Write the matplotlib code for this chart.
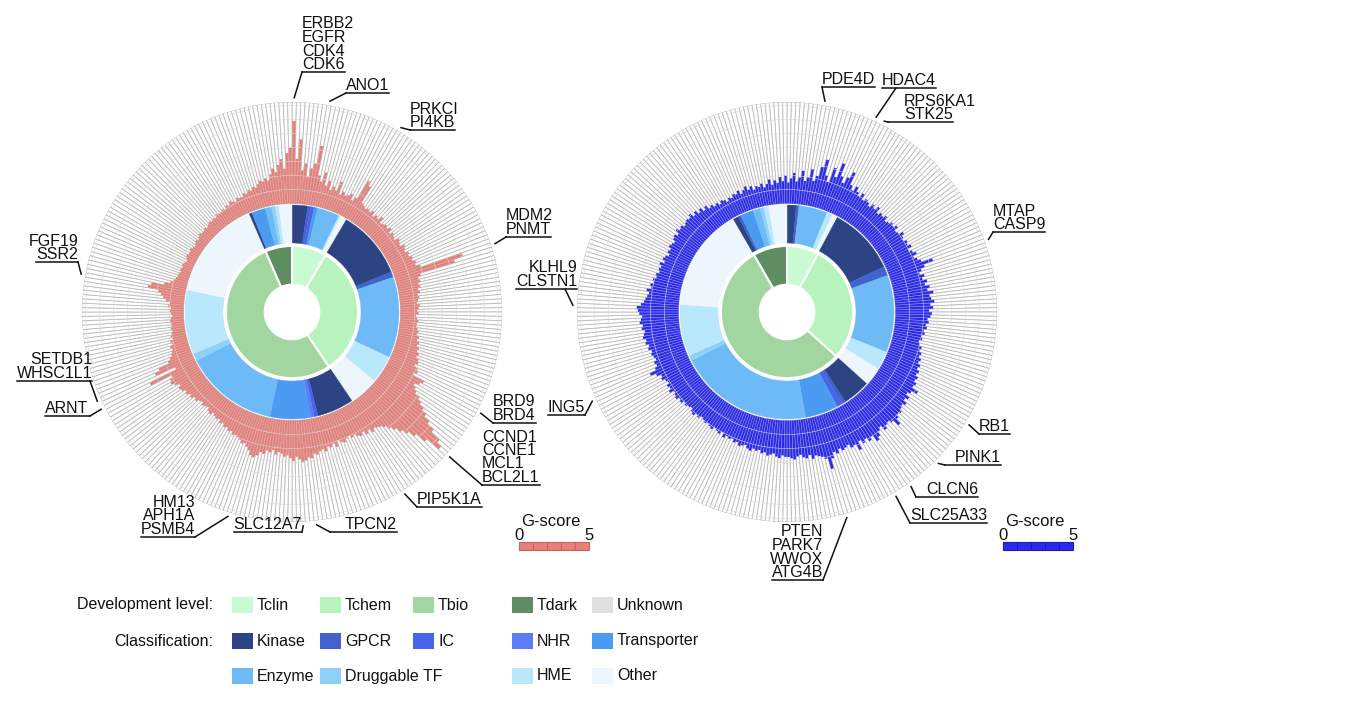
import matplotlib
matplotlib.use('Agg')
import matplotlib.pyplot as plt
import numpy as np
from matplotlib.patches import Rectangle

plt.rcParams['font.family'] = ['Liberation Sans', 'DejaVu Sans']

W, H = 1367, 702

# ---- data -------------------------------------------------------------
DEV_LEVELS = ['Tclin', 'Tchem', 'Tbio', 'Tdark', 'Unknown']
DEV_COLORS = ['#c9fbd3', '#b8f3be', '#a2d6a0', '#5f8d62', '#e0e0e0']

CLASSES = ['Kinase', 'GPCR', 'IC', 'NHR', 'Transporter',
           'Enzyme', 'Druggable TF', 'HME', 'Other']
CLASS_COLORS = ['#2c4484', '#4262cc', '#4a62ec', '#5b7df6', '#4b9bf2',
                '#6dbaf6', '#8fd0f7', '#b9e7fb', '#eef6fd']

# development level arcs, degrees (Tclin, Tchem, Tbio, Tdark)
dev_left = [30.5, 115.5, 190.5, 23.5]
dev_right = [28, 104, 198, 30]

# classification arcs, degrees, in drawing order
cls_left = [
    ('Kinase', 8.5), ('GPCR', 1.5), ('IC', 2), ('Transporter', 2), ('Enzyme', 12),
    ('HME', 1), ('Other', 3.5),
    ('Kinase', 37.5), ('GPCR', 3), ('Enzyme', 44), ('HME', 15), ('Other', 16),
    ('Kinase', 20), ('IC', 2), ('NHR', 2), ('Transporter', 22), ('Enzyme', 51),
    ('Druggable TF', 4), ('HME', 35), ('Other', 54.5),
    ('Kinase', 1.5), ('Transporter', 7.5), ('Enzyme', 3.5), ('Druggable TF', 2),
    ('HME', 2), ('Other', 7),
]
cls_right = [
    ('Kinase', 5), ('GPCR', 1.5), ('Enzyme', 15.5), ('HME', 3), ('Other', 3),
    ('Kinase', 37), ('GPCR', 5), ('Enzyme', 42), ('HME', 10), ('Other', 10),
    ('Kinase', 15), ('GPCR', 2), ('IC', 3), ('Transporter', 18), ('Enzyme', 73),
    ('Druggable TF', 3), ('HME', 28), ('Other', 56),
    ('Kinase', 3), ('GPCR', 1.5), ('Transporter', 7), ('Enzyme', 4),
    ('Druggable TF', 2), ('HME', 2.5), ('Other', 10),
]

# G-score per gene, clockwise from 12 o'clock
gscore_left = [
    5.9, 3.2, 4.6, 2.4, 2.9, 2.0, 2.6, 3.0, 4.3, 2.2,
    1.8, 2.5, 1.6, 2.0, 1.4, 1.7, 1.5, 2.2, 1.3, 1.6,
    1.4, 1.5, 1.7, 1.3, 1.6, 3.1, 2.8, 1.5, 1.4, 1.3,
    1.4, 1.3, 1.5, 1.2, 1.4, 1.3, 1.6, 1.2, 1.3, 1.4,
    1.3, 1.5, 1.2, 1.4, 1.3, 1.2, 1.5, 1.4, 1.3, 1.6,
    1.5, 1.4, 1.6, 1.5, 1.7, 1.6, 1.8, 1.7, 2.0, 5.1,
    4.4, 1.8, 1.6, 1.7, 1.5, 1.6, 1.4, 1.5, 1.3, 1.4,
    1.3, 1.2, 1.4, 1.3, 1.2, 1.3, 1.1, 1.2, 1.3, 1.2,
    1.2, 1.3, 1.4, 1.3, 1.5, 1.4, 1.6, 1.5, 1.7, 1.6,
    1.8, 1.7, 1.9, 2.0, 1.8, 2.1, 2.2, 2.0, 2.9, 2.7,
    2.4, 2.6, 2.8, 3.2, 3.5, 3.9, 4.3, 4.8, 5.4, 6.2,
    6.6, 5.5, 4.7, 4.2, 3.8, 3.4, 3.1, 2.8, 2.6, 2.5,
    2.4, 2.6, 2.3, 2.5, 2.2, 2.4, 2.3, 2.1, 2.2, 2.0,
    2.1, 2.3, 2.2, 2.0, 2.4, 2.1, 2.3, 2.2, 2.5, 2.3,
    2.4, 2.6, 2.5, 2.8, 2.7, 2.9, 3.0, 2.8, 2.6, 2.9,
    2.7, 2.5, 2.6, 2.4, 2.3, 2.5, 2.2, 2.4, 2.3, 2.6,
    2.5, 2.8, 3.0, 2.9, 2.6, 2.4, 2.2, 2.3, 2.1, 2.0,
    1.9, 2.0, 1.8, 1.9, 1.7, 1.8, 1.6, 1.7, 1.5, 1.6,
    1.5, 1.4, 1.6, 1.5, 1.3, 1.4, 1.5, 1.3, 1.4, 1.6,
    1.5, 1.7, 1.6, 1.8, 1.7, 1.9, 2.0, 1.8, 2.1, 2.3,
    2.2, 2.0, 3.6, 1.5, 3.0, 2.6, 1.8, 1.6, 1.4, 1.3,
    1.2, 1.3, 1.1, 1.2, 1.0, 1.1, 1.0, 0.9, 1.0, 0.9,
    0.9, 1.0, 0.9, 0.8, 0.9, 1.0, 0.9, 1.1, 1.0, 1.3,
    1.5, 1.7, 1.9, 2.7, 2.5, 1.6, 1.2, 1.0, 0.9, 0.8,
    0.8, 0.7, 0.8, 0.7, 0.8, 0.7, 0.6, 0.7, 0.8, 0.7,
    0.7, 0.8, 0.7, 0.6, 0.7, 0.8, 0.7, 0.8, 0.9, 0.8,
    0.8, 0.9, 0.8, 0.9, 1.0, 0.9, 1.0, 0.9, 1.1, 1.0,
    1.0, 1.1, 1.0, 1.2, 1.1, 1.3, 1.2, 1.1, 1.3, 1.2,
    1.2, 1.4, 1.3, 1.5, 1.4, 1.6, 1.5, 1.7, 1.9, 1.8,
    2.0, 1.8, 2.2, 2.6, 2.3, 2.8, 3.2, 2.5, 3.6, 4.0,
]
gscore_right = [
    1.5, 1.8, 2.2, 1.6, 1.9, 2.4, 1.7, 2.0, 2.6, 1.8,
    2.2, 2.9, 3.5, 2.4, 2.0, 3.1, 2.5, 3.6, 2.7, 2.3,
    2.8, 3.3, 2.4, 2.1, 2.5, 2.2, 2.0, 2.3, 1.9, 2.1,
    2.0, 1.8, 2.1, 1.9, 2.2, 1.8, 2.0, 1.9, 2.1, 1.8,
    1.9, 2.1, 2.0, 2.2, 1.9, 2.0, 2.3, 2.1, 2.0, 2.2,
    2.1, 2.3, 2.0, 2.2, 2.4, 2.1, 2.3, 2.5, 3.3, 2.6,
    2.3, 2.1, 2.4, 2.2, 2.5, 2.3, 2.6, 2.4, 2.8, 2.5,
    2.6, 2.8, 2.5, 2.7, 2.4, 2.6, 2.5, 2.3, 2.4, 2.2,
    2.3, 2.1, 2.2, 2.0, 2.1, 1.9, 2.0, 2.2, 2.1, 2.3,
    2.2, 2.4, 2.3, 2.5, 2.4, 2.6, 2.5, 2.7, 2.6, 2.8,
    2.7, 3.2, 2.8, 2.6, 2.9, 2.7, 3.0, 2.8, 2.9, 3.1,
    3.0, 3.2, 3.6, 3.1, 2.9, 3.0, 3.2, 2.8, 3.0, 3.3,
    3.5, 3.0, 3.2, 2.9, 3.1, 2.8, 3.4, 2.9, 3.0, 2.7,
    2.8, 2.9, 2.7, 3.0, 2.8, 3.2, 3.9, 3.1, 2.9, 2.8,
    2.7, 2.9, 2.6, 2.8, 2.7, 2.5, 2.6, 2.8, 2.7, 2.6,
    2.6, 2.5, 2.7, 2.6, 2.4, 2.5, 2.6, 2.4, 2.5, 2.3,
    2.4, 2.3, 2.5, 2.4, 2.2, 2.3, 2.4, 2.2, 2.3, 2.1,
    2.2, 2.1, 2.3, 2.0, 2.2, 2.1, 2.0, 2.2, 2.1, 2.0,
    2.1, 2.0, 1.9, 2.1, 2.0, 2.2, 2.1, 1.9, 2.0, 2.1,
    2.0, 2.2, 2.1, 2.3, 2.2, 2.1, 2.4, 2.2, 2.3, 2.1,
    2.2, 2.4, 2.3, 2.6, 3.0, 2.5, 2.3, 2.4, 2.2, 2.3,
    2.4, 2.3, 2.5, 2.4, 2.6, 2.5, 2.7, 2.6, 2.5, 2.7,
    2.6, 2.8, 2.7, 2.6, 2.8, 2.9, 3.0, 2.7, 2.5, 2.4,
    2.3, 2.2, 2.4, 2.1, 2.2, 2.0, 2.1, 1.9, 2.0, 1.8,
    1.9, 1.8, 2.0, 1.7, 1.9, 1.8, 1.6, 1.8, 1.7, 1.9,
    1.8, 1.7, 1.9, 2.0, 1.8, 2.1, 1.9, 2.0, 1.8, 1.9,
    2.0, 1.9, 2.1, 1.8, 2.0, 1.7, 1.9, 1.6, 1.8, 1.5,
    1.6, 1.4, 1.5, 1.3, 1.5, 1.4, 1.2, 1.4, 1.3, 1.5,
    1.4, 1.6, 1.3, 1.5, 1.7, 1.4, 1.6, 1.3, 1.5, 1.4,
    1.6, 1.3, 1.5, 1.8, 1.4, 1.7, 1.5, 1.9, 1.6, 2.0,
]

# gene callouts: (gene index, text, text x, underline y, alignment, leader x)
labels_left = [
    (0, 'ERBB2\nEGFR\nCDK4\nCDK6', 302, 72, 'left', 302),
    (8, 'ANO1', 346, 93, 'left', 346),
    (25, 'PRKCI\nPI4KB', 410, 130, 'left', 410),
    (59, 'MDM2\nPNMT', 506, 237, 'left', 506),
    (98, 'BRD9\nBRD4', 493, 423, 'left', 493),
    (110, 'CCND1\nCCNE1\nMCL1\nBCL2L1', 482, 485, 'left', 482),
    (123, 'PIP5K1A', 417, 507, 'left', 417),
    (144, 'TPCN2', 345, 532, 'left', 330),
    (147, 'SLC12A7', 302, 532, 'right', 302),
    (164, 'HM13\nAPH1A\nPSMB4', 195, 537, 'right', 195),
    (202, 'ARNT', 88, 416, 'right', 90),
    (204, 'SETDB1\nWHSC1L1', 92, 381, 'right', 90),
    (233, 'FGF19\nSSR2', 78, 262, 'right', 78),
]
labels_right = [
    (8, 'PDE4D', 822, 87, 'left', 822),
    (20, 'HDAC4', 882, 88, 'left', 896),
    (22, 'RPS6KA1\nSTK25', 904, 122, 'left', 888),
    (58, 'MTAP\nCASP9', 993, 232, 'left', 993),
    (101, 'RB1', 979, 434, 'left', 979),
    (112, 'PINK1', 955, 465, 'left', 945),
    (120, 'CLCN6', 926, 497, 'left', 916),
    (124, 'SLC25A33', 910, 523, 'left', 910),
    (136, 'PTEN\nPARK7\nWWOX\nATG4B', 823, 580, 'right', 823),
    (204, 'ING5', 585, 415, 'right', 585),
    (226, 'KLHL9\nCLSTN1', 577, 289, 'right', 565),
]

# ---- geometry ---------------------------------------------------------
R_OUT = 15.0       # outer spoke radius in G-score units
R_PX = 210         # outer spoke radius in pixels
PX_PER_UNIT = R_PX / R_OUT
R_HOLE, R_DEV = 1.95, 4.72
R_CLS0, R_CLS1 = 4.93, 7.64
R_BASE = 7.75

RED = '#e6807a'
BLUE = '#2b2bef'
INK = '#111111'

fig = plt.figure(figsize=(W / 100, H / 100), dpi=100)
fig.patch.set_facecolor('white')

ov = fig.add_axes([0, 0, 1, 1])
ov.set_xlim(0, W)
ov.set_ylim(H, 0)
ov.axis('off')
ov.set_zorder(5)


def polar_axes(cx, cy):
    ax = fig.add_axes([(cx - R_PX) / W, 1 - (cy + R_PX) / H,
                       2 * R_PX / W, 2 * R_PX / H], projection='polar')
    ax.set_theta_zero_location('N')
    ax.set_theta_direction(-1)
    ax.set_ylim(0, R_OUT)
    ax.set_axis_off()
    return ax


def draw_circle(ax, dev, cls, scores, color):
    n = len(scores)
    step = 2 * np.pi / n
    theta = np.arange(n) * step

    # spokes
    ax.bar(theta, R_OUT - R_BASE, width=step, bottom=R_BASE, align='edge',
           color='white', edgecolor='#bcbcbc', linewidth=0.6)
    ring = np.linspace(0, 2 * np.pi, 600)
    for k in range(1, 8):
        ax.plot(ring, np.full_like(ring, R_BASE + k), color='#dadada', lw=0.4)

    # G-score bars
    ax.bar(theta + step * 0.08, scores, width=step * 0.84, bottom=R_BASE,
           align='edge', color=color, linewidth=0)

    # development level ring
    start = 0
    for level, deg in zip(DEV_LEVELS, dev):
        ax.bar(np.deg2rad(start), R_DEV - R_HOLE, width=np.deg2rad(deg),
               bottom=R_HOLE, align='edge', color=DEV_COLORS[DEV_LEVELS.index(level)],
               edgecolor='white', linewidth=1.5)
        start += deg

    # classification ring
    start = 0
    for name, deg in cls:
        c = CLASS_COLORS[CLASSES.index(name)]
        ax.bar(np.deg2rad(start), R_CLS1 - R_CLS0, width=np.deg2rad(deg),
               bottom=R_CLS0, align='edge', color=c, edgecolor=c, linewidth=0.3)
        start += deg
    return step


def draw_labels(ax, step, labels):
    renderer = fig.canvas.get_renderer()
    for idx, text, tx, ty, align, lx in labels:
        lines = text.split('\n')
        last = None
        for k, line in enumerate(reversed(lines)):
            t = ov.text(tx, ty - 3 - 13.5 * k, line, ha=align, va='baseline',
                        fontsize=11.5, color=INK)
            if k == 0:
                last = t
        bb = last.get_window_extent(renderer)
        x0, x1 = bb.x0, bb.x1
        ov.plot([min(x0, lx), max(x1, lx)], [ty, ty], color=INK, lw=1.1)
        px, py = ax.transData.transform(((idx + 0.5) * step, R_OUT + 0.3))
        ov.plot([px, lx], [H - py, ty], color=INK, lw=1.1)


def gscore_key(x0, color, edge):
    for k in range(5):
        ov.add_patch(Rectangle((x0 + k * PX_PER_UNIT, 542), PX_PER_UNIT, 8,
                               facecolor=color, edgecolor=edge, lw=0.8))
    ov.text(x0 + 2, 521, 'G-score', ha='left', va='center', fontsize=12, color=INK)
    ov.text(x0, 535, '0', ha='center', va='center', fontsize=12, color=INK)
    ov.text(x0 + 5 * PX_PER_UNIT, 535, '5', ha='center', va='center',
            fontsize=12, color=INK)


ax_l = polar_axes(292, 312)
ax_r = polar_axes(787, 312)
step_l = draw_circle(ax_l, dev_left, cls_left, gscore_left, RED)
step_r = draw_circle(ax_r, dev_right, cls_right, gscore_right, BLUE)

fig.canvas.draw()
draw_labels(ax_l, step_l, labels_left)
draw_labels(ax_r, step_r, labels_right)

gscore_key(519, RED, '#c8625c')
gscore_key(1003, BLUE, '#1c1cb0')

# ---- legend -----------------------------------------------------------
col_x = [232, 320, 413, 512, 592]
rows = [
    (605, 'Development level:', list(zip(DEV_LEVELS, DEV_COLORS)), [0, 1, 2, 3, 4]),
    (641, 'Classification:', list(zip(CLASSES[:5], CLASS_COLORS[:5])), [0, 1, 2, 3, 4]),
    (676, '', list(zip(CLASSES[5:], CLASS_COLORS[5:])), [0, 1, 3, 4]),
]
for y, title, items, cols in rows:
    if title:
        ov.text(213, y, title, ha='right', va='center', fontsize=11.5, color=INK)
    for (name, c), ci in zip(items, cols):
        x = col_x[ci]
        ov.add_patch(Rectangle((x, y - 8), 21, 16, facecolor=c, edgecolor='none'))
        ov.text(x + 25, y, name, ha='left', va='center', fontsize=11.5, color=INK)

fig.savefig('out.png', dpi=100, facecolor='white')
